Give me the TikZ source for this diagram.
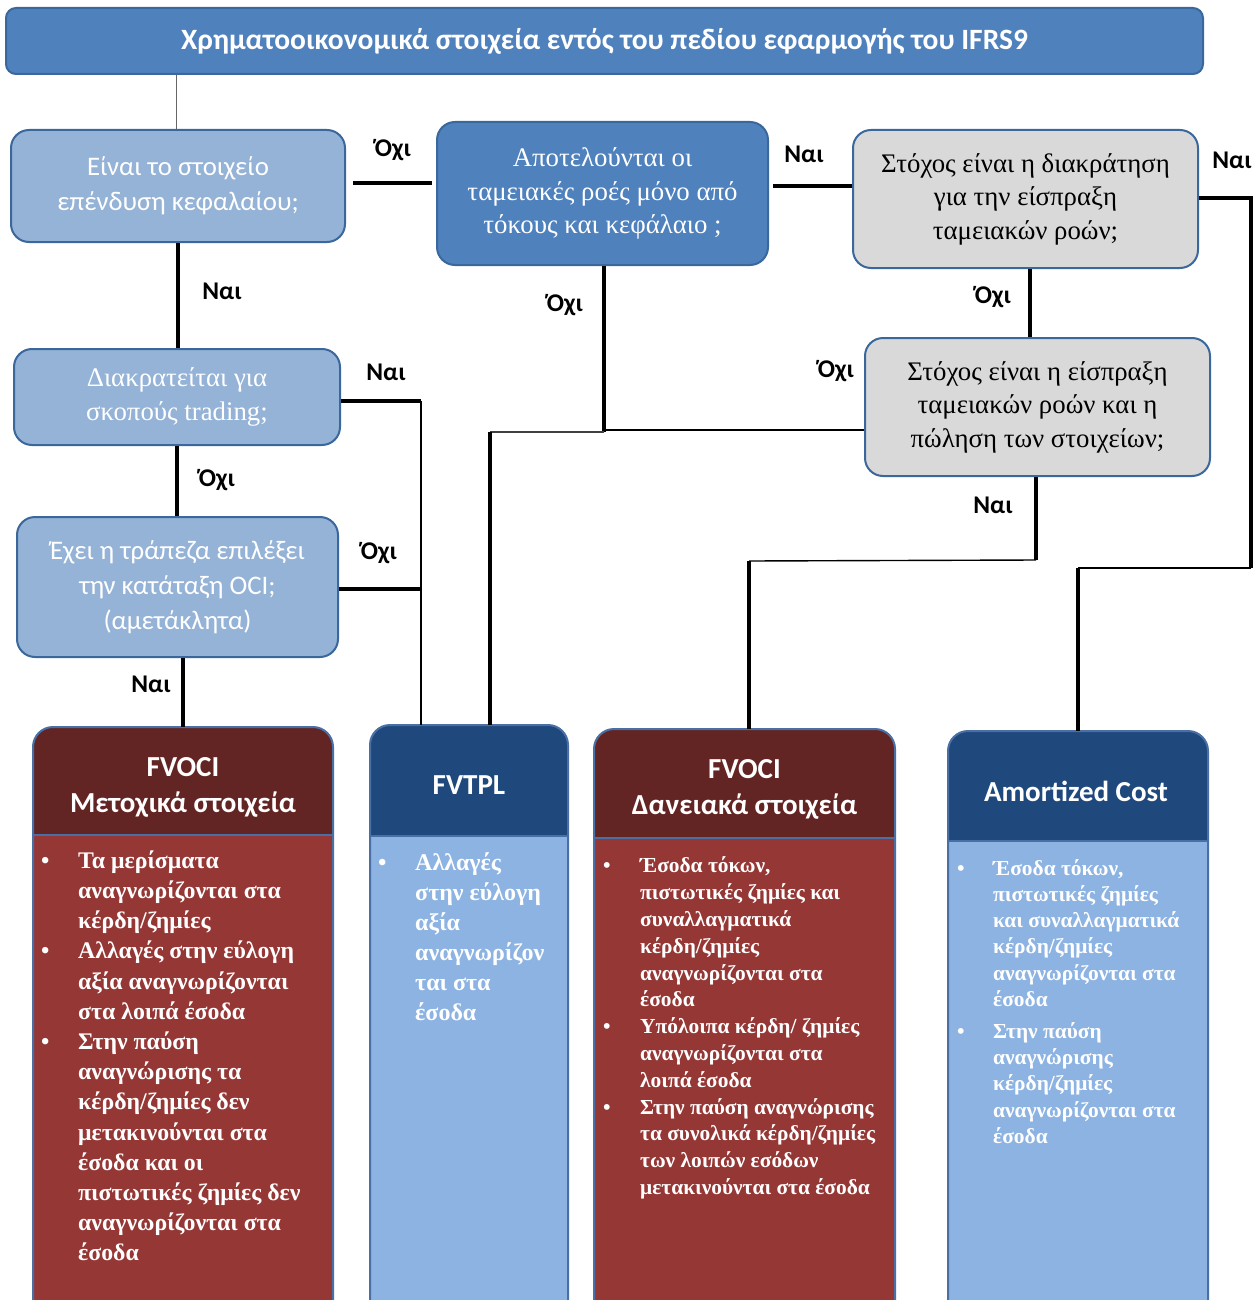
\documentclass[tikz,border=0pt]{standalone}
\usepackage{fontspec}
\setmainfont{Liberation Serif}
\setsansfont{Carlito}
\usetikzlibrary{calc}
\definecolor{titleblue}{HTML}{4F81BD}
\definecolor{edgeblue}{HTML}{3A679C}
\definecolor{lightbox}{HTML}{95B3D7}
\definecolor{greybox}{HTML}{D9D9D9}
\definecolor{redhead}{HTML}{632523}
\definecolor{redbody}{HTML}{953735}
\definecolor{bluehead}{HTML}{1F497D}
\definecolor{bluebody}{HTML}{8DB3E2}
\definecolor{frameblue}{HTML}{4A6FA5}
\newcommand\resbox[6]{%
  \fill[#6, rounded corners=20pt] (#1,#3) rectangle (#2,1330);
  \begin{scope}
    \clip (#1-5,#3-5) rectangle (#2+5,#4);
    \fill[#5, rounded corners=20pt] (#1,#3) rectangle (#2,1330);
  \end{scope}
  \draw[frameblue, line width=2pt, rounded corners=20pt] (#1,#3) rectangle (#2,1330);
  \draw[frameblue, line width=2pt] (#1,#4) -- (#2,#4);
}
\begin{document}
\begin{tikzpicture}[x=1pt,y=-1pt,
  qbox/.style={rounded corners=18pt, draw=edgeblue, line width=2pt, align=center, inner sep=0pt},
  sansq/.style={font=\sffamily\fontsize{26.8}{35}\selectfont},
  serifq/.style={font=\rmfamily\fontsize{26.8}{33.5}\selectfont},
  lbl/.style={font=\sffamily\bfseries\fontsize{25.5}{30}\selectfont, inner sep=0pt, text=black},
  headbox/.style={inner sep=0pt},
  headtext/.style={font=\sffamily\bfseries\fontsize{29}{36}\selectfont, text=white, align=center, inner sep=0pt},
  bodytext/.style={anchor=north west, inner sep=0pt, text=white},
  thk/.style={line width=3.5pt, black},
  thn/.style={line width=1.4pt, black},
  hair/.style={line width=1pt, black!60}]
\useasboundingbox (0,0) rectangle (1256,1300);

% ---------- title ----------
\node[qbox, fill=titleblue, rounded corners=10pt, minimum width=1197pt, minimum height=66pt,
      font=\sffamily\bfseries\fontsize{29.5}{34}\selectfont, text=white] (title) at (604.5,41)
      {Χρηματοοικονομικά στοιχεία εντός του πεδίου εφαρμογής του IFRS9};

% ---------- question boxes ----------
\node[qbox, sansq, fill=lightbox, text=white, minimum width=334pt, minimum height=112pt] (box1) at (178,186)
  {Είναι το στοιχείο\\επένδυση κεφαλαίου;};
\node[qbox, serifq, fill=titleblue, text=white, minimum width=331pt, minimum height=143pt] (box2) at (602.5,193.5)
  {Αποτελούνται οι\\ταμειακές ροές μόνο από\\τόκους και κεφάλαιο ;};
\node[qbox, serifq, fill=greybox, text=black, minimum width=345pt, minimum height=138pt] (box3) at (1025.5,199)
  {Στόχος είναι η διακράτηση\\για την είσπραξη\\ταμειακών ροών;};
\node[qbox, serifq, fill=lightbox, text=white, minimum width=326pt, minimum height=96pt] (box4) at (177,397)
  {Διακρατείται για\\σκοπούς trading;};
\node[qbox, serifq, fill=greybox, text=black, minimum width=345pt, minimum height=138pt] (box5) at (1037.5,407)
  {Στόχος είναι η είσπραξη\\ταμειακών ροών και η\\πώληση των στοιχείων;};
\node[qbox, sansq, fill=lightbox, text=white, minimum width=321pt, minimum height=140pt] (box6) at (177.5,587)
  {Έχει η τράπεζα επιλέξει\\την κατάταξη OCI;\\(αμετάκλητα)};

% ---------- result boxes ----------
\resbox{33}{333}{727}{835}{redhead}{redbody}
\resbox{370}{568}{725}{836}{bluehead}{bluebody}
\resbox{594}{895}{729}{838}{redhead}{redbody}
\resbox{948}{1208}{731}{841}{bluehead}{bluebody}

\node[headbox, minimum width=300pt, minimum height=108pt] (fvociA) at (183,781) {};
\node[headbox, minimum width=198pt, minimum height=111pt] (fvtpl) at (469,780.5) {};
\node[headbox, minimum width=301pt, minimum height=109pt] (fvociB) at (744.5,783.5) {};
\node[headbox, minimum width=260pt, minimum height=110pt] (amort) at (1078,786) {};

\node[headtext] (tA) at (183,787) {FVOCI\\Μετοχικά στοιχεία};
\node[headtext] (tB) at (469,785) {FVTPL};
\node[headtext] (tC) at (744.5,789) {FVOCI\\Δανειακά στοιχεία};
\node[headtext] (tD) at (1076,791) {Amortized Cost};

\node[bodytext, font=\rmfamily\bfseries\fontsize{23.8}{30.2}\selectfont] (bodyA) at (41,847)
{\begin{tabular}{@{}p{37pt}@{}l@{}}
•&Τα μερίσματα\\
&αναγνωρίζονται στα\\
&κέρδη/ζημίες\\
•&Αλλαγές στην εύλογη\\
&αξία αναγνωρίζονται\\
&στα λοιπά έσοδα\\
•&Στην παύση\\
&αναγνώρισης τα\\
&κέρδη/ζημίες δεν\\
&μετακινούνται στα\\
&έσοδα και οι\\
&πιστωτικές ζημίες δεν\\
&αναγνωρίζονται στα\\
&έσοδα
\end{tabular}};

\node[bodytext, font=\rmfamily\bfseries\fontsize{24}{30}\selectfont] (bodyB) at (378,849)
{\begin{tabular}{@{}p{37pt}@{}l@{}}
•&Αλλαγές\\
&στην εύλογη\\
&αξία\\
&αναγνωρίζον\\
&ται στα\\
&έσοδα
\end{tabular}};

\node[bodytext, font=\rmfamily\bfseries\fontsize{21.4}{26.8}\selectfont] (bodyC) at (603,854)
{\begin{tabular}{@{}p{37pt}@{}l@{}}
•&Έσοδα τόκων,\\
&πιστωτικές ζημίες και\\
&συναλλαγματικά\\
&κέρδη/ζημίες\\
&αναγνωρίζονται στα\\
&έσοδα\\
•&Υπόλοιπα κέρδη/ ζημίες\\
&αναγνωρίζονται στα\\
&λοιπά έσοδα\\
•&Στην παύση αναγνώρισης\\
&τα συνολικά κέρδη/ζημίες\\
&των λοιπών εσόδων\\
&μετακινούνται στα έσοδα
\end{tabular}};

\node[bodytext, font=\rmfamily\bfseries\fontsize{21.4}{26.2}\selectfont] (bodyD) at (957,856.7)
{\begin{tabular}{@{}p{36pt}@{}l@{}}
•&Έσοδα τόκων,\\
&πιστωτικές ζημίες\\
&και συναλλαγματικά\\
&κέρδη/ζημίες\\
&αναγνωρίζονται στα\\
&έσοδα\\[6pt]
•&Στην παύση\\
&αναγνώρισης\\
&κέρδη/ζημίες\\
&αναγνωρίζονται στα\\
&έσοδα
\end{tabular}};

% ---------- junction coordinates ----------
\coordinate (jr) at (1251,568);
\coordinate (jl) at (421,401);
\coordinate (jm) at (604,432);
\coordinate (jfv) at (490,432);
\coordinate (jn) at (1036,560);
\coordinate (jb) at (749,561);

% ---------- connectors ----------
\draw[hair] ([xshift=-2pt]box1.north) -- ([xshift=-2pt]box1.north |- title.south);
\draw[thk] ([shift={(7pt,3pt)}]box1.east) -- ([shift={(-4pt,3pt)}]box1.east -| box2.west);
\draw[thk] ([shift={(4pt,7.5pt)}]box2.east) -- ([yshift=7.5pt]box2.east -| box3.west);
\draw[thk] ([yshift=1pt]box3.east) -| (jr);
\draw[thn] (jr) -- (jr -| amort.north);
\draw[thk] (jr -| amort.north) -- (amort.north);
\draw[thk] (box1.south) -- (box1.south |- box4.north);
\draw[thk] ([yshift=-4pt]box4.east) -- (jl);
\draw[thn] (jl) -- (jl |- fvtpl.north);
\draw[thk] (box4.south) -- (box4.south |- box6.north);
\draw[thk] ([yshift=-2pt]box6.east) -- ([yshift=-2pt]box6.east -| jl);
\draw[thk] (fvociA.north |- box6.south) -- (fvociA.north);
\draw[thk] (box2.south -| jm) -- (jm);
\draw[line width=1.8pt, black!75] (jm) -- (jfv);
\draw[thk] (jfv) -- (jfv |- fvtpl.north);
\draw[thn] ([yshift=2pt]jm) -- ([yshift=2pt]jm -| box5.west);
\draw[thk] ([xshift=4.5pt]box3.south) -- ([xshift=4.5pt]box3.south |- box5.north);
\draw[thk] (box5.south -| jn) -- (jn);
\draw[thn] (jn) -- (jb);
\draw[thk] (jb) -- (jb |- fvociB.north);

% ---------- labels ----------
\node[lbl] (l1) at (393,150) {Όχι};
\node[lbl] (l2) at (222,291) {Ναι};
\node[lbl] (l3) at (386,372) {Ναι};
\node[lbl] (l4) at (217,480) {Όχι};
\node[lbl] (l5) at (379,553) {Όχι};
\node[lbl] (l6) at (151,684) {Ναι};
\node[lbl] (l7) at (565,305) {Όχι};
\node[lbl] (l8) at (804,154) {Ναι};
\node[lbl] (l9) at (993,297) {Όχι};
\node[lbl] (l10) at (1232,160) {Ναι};
\node[lbl] (l11) at (836,371) {Όχι};
\node[lbl] (l12) at (993,505) {Ναι};
\end{tikzpicture}
\end{document}
